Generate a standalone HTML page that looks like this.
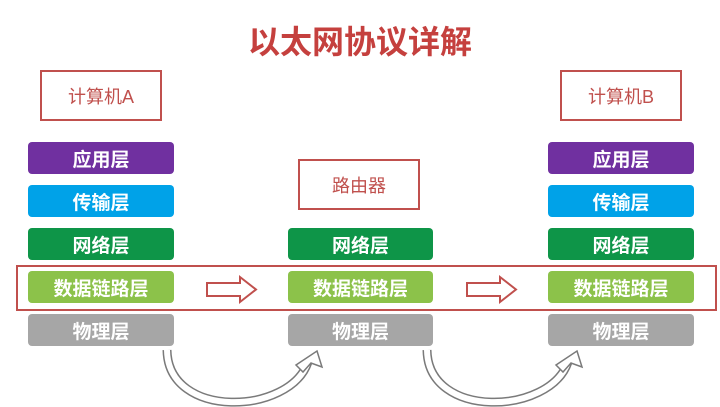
<!DOCTYPE html>
<html><head><meta charset="utf-8"><style>
body{margin:0;width:720px;height:407px;background:#fff;position:relative;overflow:hidden;font-family:"Liberation Sans","Noto Sans CJK SC",sans-serif}
.t{position:absolute;left:0;width:720px;top:17px;text-align:center;font-size:32px;font-weight:bold;color:#c5403e;letter-spacing:0px}
.box{position:absolute;border:2px solid #c0504d;box-sizing:border-box;color:#c0504d;font-size:18px;display:flex;align-items:center;justify-content:center}
.b{position:absolute;height:32px;border-radius:4px;color:#fff;font-weight:bold;font-size:19px;display:flex;align-items:center;justify-content:center}
.p{background:#7030a0}.c{background:#00a2e8}.g{background:#0e9548}.l{background:#8cc24a}.y{background:#a6a6a6}
</style></head><body>
<div class="t">以太网协议详解</div>
<div class="box" style="left:40px;top:70px;width:122px;height:51px">计算机A</div>
<div class="box" style="left:560px;top:70px;width:122px;height:51px">计算机B</div>
<div class="box" style="left:298px;top:159px;width:122px;height:51px">路由器</div>
<div class="b p" style="left:28px;top:142px;width:146px">应用层</div>
<div class="b c" style="left:28px;top:185px;width:146px">传输层</div>
<div class="b g" style="left:28px;top:228px;width:146px">网络层</div>
<div class="b l" style="left:28px;top:271px;width:146px">数据链路层</div>
<div class="b y" style="left:28px;top:314px;width:146px">物理层</div>
<div class="b g" style="left:288px;top:228px;width:145px">网络层</div>
<div class="b l" style="left:288px;top:271px;width:145px">数据链路层</div>
<div class="b y" style="left:288px;top:314px;width:145px">物理层</div>
<div class="b p" style="left:548px;top:142px;width:146px">应用层</div>
<div class="b c" style="left:548px;top:185px;width:146px">传输层</div>
<div class="b g" style="left:548px;top:228px;width:146px">网络层</div>
<div class="b l" style="left:548px;top:271px;width:146px">数据链路层</div>
<div class="b y" style="left:548px;top:314px;width:146px">物理层</div>
<svg width="720" height="407" style="position:absolute;left:0;top:0">
<rect x="17" y="266" width="699" height="44" fill="none" stroke="#c0504d" stroke-width="2"/>
<g fill="#fff" stroke="#c0504d" stroke-width="2">
<polygon points="207,283 240,283 240,277 256,289.5 240,302 240,296 207,296"/>
<polygon points="467,283 500,283 500,277 516,289.5 500,302 500,296 467,296"/>
</g>
<g fill="none">
<path d="M167 350 C168 420,290 415,308 362" stroke="#7a7a7a" stroke-width="9"/>
<path d="M167 350 C168 420,290 415,308 362" stroke="#fff" stroke-width="6"/>
<path d="M427 350 C428 420,550 415,568 362" stroke="#7a7a7a" stroke-width="9"/>
<path d="M427 350 C428 420,550 415,568 362" stroke="#fff" stroke-width="6"/>
</g>
<g fill="#fff" stroke="#7a7a7a" stroke-width="1.5">
<polygon points="317,351 322,367 311,363 303,372 296,365"/>
<polygon points="577,351 582,367 571,363 563,372 556,365"/>
</g>
</svg>
</body></html>
